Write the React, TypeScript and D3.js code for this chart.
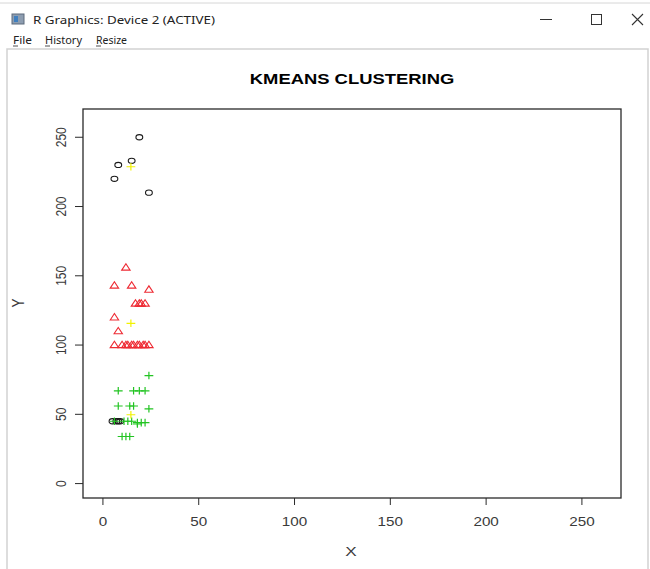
import { useEffect } from "react";
import * as d3 from "d3";

// cluster 1 (black circles)
const c1X = [19, 8, 15, 6, 24, 5, 7, 8, 9];
const c1Y = [250, 230, 233, 220, 210, 45, 45, 45, 45];
// cluster 2 (red triangles)
const c2X = [12, 6, 15, 24, 17, 19, 20, 22, 6, 8, 6, 10, 12, 13, 15, 16, 18, 19, 21, 22, 24];
const c2Y = [156, 143, 143, 140, 130, 130, 130, 130, 120, 110, 100, 100, 100, 100, 100, 100, 100, 100, 100, 100, 100];
// cluster 3 (green pluses)
const c3X = [24, 8, 16, 19, 22, 8, 14, 16, 24, 6, 11, 13, 15, 18, 20, 22, 18, 10, 12, 14];
const c3Y = [78, 67, 67, 67, 67, 56, 56, 56, 54, 45, 45, 45, 45, 44, 44, 44, 43, 34, 34, 34];
// cluster centres (yellow)
const centerX = [14.6, 14.6, 14.6];
const centerY = [228.7, 115.7, 49.7];

const xTicks = [0, 50, 100, 150, 200, 250];
const yTicks = [0, 50, 100, 150, 200, 250];
const menuItems = ["File", "History", "Resize"];

const W = 650;
const H = 569;
const BOX = { left: 83, right: 621, top: 109, bottom: 498 };
const SX = 1.27; // the screenshot is stretched sideways
const FONT = "'Liberation Sans', Arial, sans-serif";
const UI_FONT = "'Noto Sans', 'Open Sans', sans-serif";
const INK = "#2a2a2a";

const x = d3.scaleLinear().domain([-10.4, 270.4]).range([BOX.left, BOX.right]);
const y = d3.scaleLinear().domain([-10.4, 270.4]).range([BOX.bottom, BOX.top]);

const triangle = (cx: number, cy: number) =>
  `M${cx - 4.2},${cy + 2.6}L${cx},${cy - 3.8}L${cx + 4.2},${cy + 2.6}Z`;
const plus = (cx: number, cy: number) =>
  `M${cx - 4.4},${cy}H${cx + 4.4}M${cx},${cy - 3.8}V${cy + 3.8}`;

function Stretched({ tx, ty, size, children, rotate = 0, weight = "normal", fill = "#3a3a3a" }: any) {
  return (
    <text
      transform={`translate(${tx},${ty}) scale(${SX},1) rotate(${rotate})`}
      textAnchor="middle"
      fontFamily={FONT}
      fontSize={size}
      fontWeight={weight}
      fill={fill}
    >
      {children}
    </text>
  );
}

export default function App() {
  useEffect(() => {
    document.body.style.margin = "0";
  }, []);

  const menuX = [13, 45, 96];
  const menuW = [19, 37, 31];

  return (
    <svg width={W} height={H} style={{ display: "block", background: "#fff" }}>
      {/* window chrome */}
      <line x1={0} x2={W} y1={3} y2={3} stroke="#d6d6d6" />
      <rect x={12} y={14} width={12} height={10} fill="#8d9db0" stroke="#5c6b7c" />
      <rect x={14} y={16} width={4} height={6} fill="#3f7fbf" />
      <text x={33} y={24} fontFamily={UI_FONT} fontSize={11.5} fill="#222" textLength={182} lengthAdjust="spacingAndGlyphs">
        R Graphics: Device 2 (ACTIVE)
      </text>
      <line x1={540} x2={552} y1={19.5} y2={19.5} stroke="#333" />
      <rect x={591.5} y={14.5} width={10} height={10} fill="none" stroke="#333" />
      <path d="M632,14L643,25M643,14L632,25" stroke="#333" strokeWidth={1.1} />
      {menuItems.map((m, i) => (
        <g key={m}>
          <text x={menuX[i]} y={44} fontFamily={UI_FONT} fontSize={10.5} fill="#222" textLength={menuW[i]} lengthAdjust="spacingAndGlyphs">
            {m}
          </text>
          <line x1={menuX[i]} x2={menuX[i] + 5} y1={46} y2={46} stroke="#222" strokeWidth={0.8} />
        </g>
      ))}
      <path d={`M7,${H}V49H648V${H}`} fill="none" stroke="#d2d2d2" strokeWidth={1.5} />

      {/* title */}
      <Stretched tx={352} ty={84} size={14.5} weight="bold" fill="#000">
        KMEANS CLUSTERING
      </Stretched>

      {/* plot box */}
      <rect
        x={BOX.left}
        y={BOX.top}
        width={BOX.right - BOX.left}
        height={BOX.bottom - BOX.top}
        fill="none"
        stroke={INK}
        strokeWidth={1.3}
      />

      {/* x axis */}
      {xTicks.map((t) => (
        <g key={`x${t}`}>
          <line x1={x(t)} x2={x(t)} y1={BOX.bottom} y2={BOX.bottom + 7} stroke={INK} />
          <Stretched tx={x(t)} ty={526} size={12}>
            {t}
          </Stretched>
        </g>
      ))}
      {/* y axis */}
      {yTicks.map((t) => (
        <g key={`y${t}`}>
          <line x1={BOX.left - 8} x2={BOX.left} y1={y(t)} y2={y(t)} stroke={INK} />
          <Stretched tx={66} ty={y(t)} size={12} rotate={-90}>
            {t}
          </Stretched>
        </g>
      ))}
      <Stretched tx={351} ty={556} size={13.5}>
        X
      </Stretched>
      <Stretched tx={24} ty={303} size={13.5} rotate={-90}>
        Y
      </Stretched>

      {/* points */}
      {c1X.map((v, i) => (
        <ellipse key={`a${i}`} cx={x(v)} cy={y(c1Y[i])} rx={3.4} ry={2.6} fill="none" stroke="#1a1a1a" strokeWidth={1.1} />
      ))}
      {c2X.map((v, i) => (
        <path key={`b${i}`} d={triangle(x(v), y(c2Y[i]))} fill="none" stroke="#EE2A33" strokeWidth={1.1} />
      ))}
      {c3X.map((v, i) => (
        <path key={`c${i}`} d={plus(x(v), y(c3Y[i]))} fill="none" stroke="#22C422" strokeWidth={1.2} />
      ))}
      {centerX.map((v, i) => (
        <path key={`d${i}`} d={plus(x(v), y(centerY[i]))} fill="none" stroke="#F2F200" strokeWidth={1.2} />
      ))}
    </svg>
  );
}
